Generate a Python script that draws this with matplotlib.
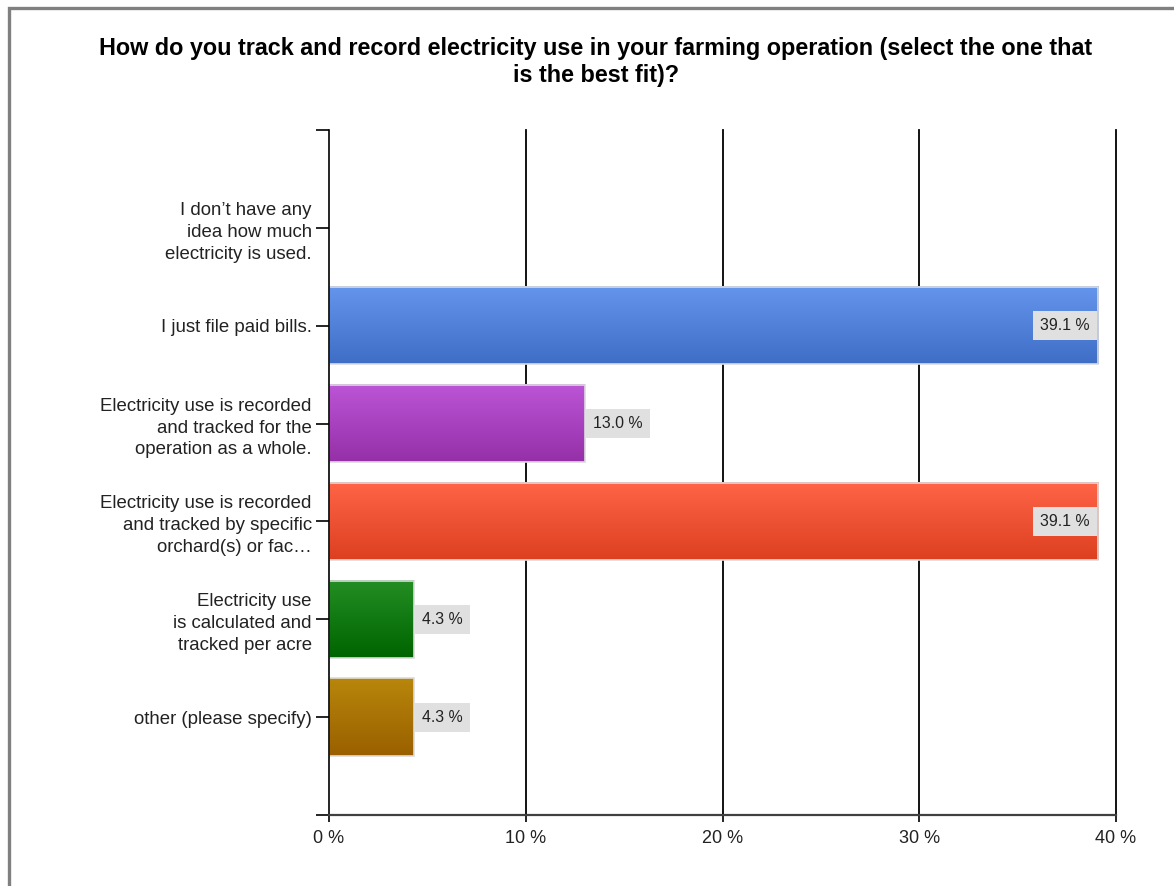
import numpy as np
import matplotlib
matplotlib.use("Agg")
import matplotlib.pyplot as plt
from matplotlib.colors import LinearSegmentedColormap
from matplotlib.patches import Rectangle

# Chart data
categories = [
    "I don\u2019t have any\nidea how much\nelectricity is used.",
    "I just file paid bills.",
    "Electricity use is recorded\nand tracked for the\noperation as a whole.",
    "Electricity use is recorded\nand tracked by specific\norchard(s) or fac\u2026",
    "Electricity use\nis calculated and\ntracked per acre",
    "other (please specify)",
]
values = [0.0, 39.1, 13.0, 39.1, 4.3, 4.3]
x_ticks = [0, 10, 20, 30, 40]
x_tick_labels = ["0 %", "10 %", "20 %", "30 %", "40 %"]
title = ("How do you track and record electricity use in your farming operation (select the one that\n"
         "is the best fit)?")

# gradient colours (top, bottom) per bar
grad_top = ["#6495ed", "#6495ed", "#bb55d6", "#ff6448", "#238e23", "#b8860b"]
grad_bot = ["#3e6ec6", "#3e6ec6", "#9530a8", "#dc4020", "#006400", "#9a6000"]

plt.rcParams["font.family"] = ["Liberation Sans", "DejaVu Sans"]

fig = plt.figure(figsize=(11.74, 8.86), dpi=100)
fig.patch.set_facecolor("white")

# grey frame round the chart (top and left visible)
fig.add_artist(Rectangle((9 / 1174, -0.05), 1.1, 1 - 8 / 886 + 0.05,
                         transform=fig.transFigure, fill=False,
                         edgecolor="#808080", linewidth=2.4))

fig.text(0.5077, 1 - 62 / 886, title, ha="center", va="center",
         fontsize=16.8, fontweight="bold", color="black", linespacing=1.2)

ax = fig.add_axes([329 / 1174, 1 - 815 / 886, (1116 - 329) / 1174, (815 - 130) / 886])

pos = np.arange(1, len(categories) + 1)
bar_h = 0.79
lab_pad = 5

for i, v in enumerate(values):
    if v <= 0:
        continue
    b = ax.barh(pos[i], v, height=bar_h, color="none",
                edgecolor="#dcdcdc", linewidth=1.2, zorder=4)[0]
    cmap = LinearSegmentedColormap.from_list("g%d" % i, [grad_top[i], grad_bot[i]])
    grad = np.linspace(0, 1, 100).reshape(-1, 1)
    y0 = b.get_y()
    ax.imshow(grad, cmap=cmap, aspect="auto", zorder=3,
              extent=[0, v, y0 + bar_h, y0], interpolation="bilinear")
    lab = "%.1f %%" % v
    if v > 20:
        ax.annotate(lab, (v, pos[i]), xytext=(-lab_pad - 1, 0), textcoords="offset points",
                    ha="right", va="center", fontsize=11.4, color="#222222", zorder=6,
                    bbox=dict(facecolor="#e0e0e0", edgecolor="none", pad=lab_pad))
    else:
        ax.annotate(lab, (v, pos[i]), xytext=(lab_pad + 1, 0), textcoords="offset points",
                    ha="left", va="center", fontsize=11.4, color="#222222", zorder=6,
                    bbox=dict(facecolor="#e0e0e0", edgecolor="none", pad=lab_pad))

ax.set_xlim(0, 40)
ax.set_ylim(len(categories) + 1, 0)

# vertical grid lines
for t in x_ticks[1:]:
    ax.axvline(t, color="black", linewidth=1.3, zorder=2, clip_on=False)

ax.set_xticks(x_ticks)
ax.set_xticklabels(x_tick_labels, fontsize=13, color="#222222")
ax.tick_params(axis="x", length=5, width=1.2, color="black", pad=6)

yt = [0] + list(pos) + [len(categories) + 1]
ax.set_yticks(yt)
ax.set_yticklabels([""] + categories + [""], fontsize=13.4, color="#222222",
                   linespacing=1.38)
ax.tick_params(axis="y", length=9.5, width=1.2, color="black", pad=3)

for s in ["top", "right"]:
    ax.spines[s].set_visible(False)
ax.spines["left"].set_color("black")
ax.spines["left"].set_linewidth(1.2)
ax.spines["left"].set_zorder(8)
ax.spines["bottom"].set_color("#404040")
ax.spines["bottom"].set_linewidth(1.6)
ax.spines["bottom"].set_zorder(8)

fig.savefig("out.png", dpi=100)
